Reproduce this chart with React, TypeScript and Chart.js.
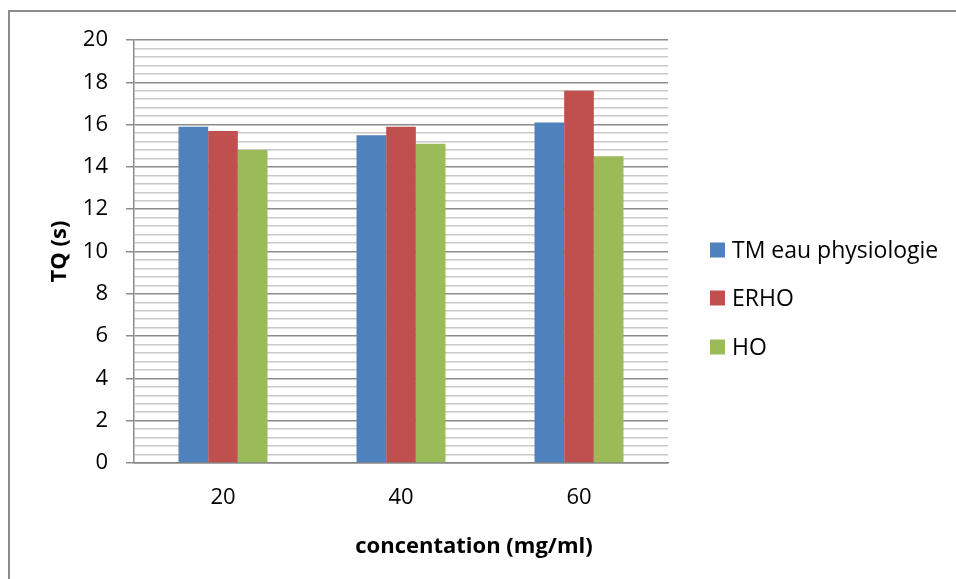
import React, { useEffect, useRef } from "react";
import { Chart, registerables } from "chart.js";

Chart.register(...registerables);

const categories = ["20", "40", "60"];
const seriesNames = ["TM eau physiologie", "ERHO", "HO"];
const tmEau = [15.9, 15.5, 16.1];
const erho = [15.7, 15.9, 17.6];
const ho = [14.8, 15.1, 14.5];
const seriesColors = ["#4F81BD", "#C0504D", "#9BBB59"];
const yTickLabels = ["0", "2", "4", "6", "8", "10", "12", "14", "16", "18", "20"];
const xTitle = "concentation (mg/ml)";
const yTitle = "TQ (s)";

const FONT = "'Open Sans', 'Liberation Sans', sans-serif";
const isMajor = (v: number) => Math.abs(v / 2 - Math.round(v / 2)) < 1e-6;

export default function App() {
  const ref = useRef<HTMLCanvasElement | null>(null);

  useEffect(() => {
    const canvas = ref.current;
    if (!canvas) return;

    const decor = {
      id: "decor",
      beforeDraw(chart: any) {
        const ctx = chart.ctx;
        ctx.save();
        ctx.fillStyle = "#ffffff";
        ctx.fillRect(0, 0, chart.width, chart.height);
        ctx.fillStyle = "#8c8c8c";
        ctx.fillRect(8, 10, 2, chart.height - 10);
        ctx.fillRect(8, 10, chart.width - 8, 2);
        ctx.restore();
      },
      afterDraw(chart: any) {
        const ctx = chart.ctx;
        const area = chart.chartArea;
        ctx.save();
        ctx.fillStyle = "#000000";
        ctx.textBaseline = "middle";
        ctx.font = `bold 22px ${FONT}`;
        ctx.textAlign = "center";
        ctx.fillText(xTitle, 474, 547);
        ctx.save();
        ctx.translate(60, (area.top + area.bottom) / 2);
        ctx.rotate(-Math.PI / 2);
        ctx.fillText(yTitle, 0, 0);
        ctx.restore();
        ctx.font = `23px ${FONT}`;
        ctx.textAlign = "left";
        const rows = [250, 298, 347];
        chart.data.datasets.forEach((ds: any, i: number) => {
          const y = rows[i];
          ctx.fillStyle = ds.backgroundColor;
          ctx.fillRect(710, y - 7.5, 15, 15);
          ctx.fillStyle = "#000000";
          ctx.fillText(ds.label, 732, y + 1);
        });
        ctx.restore();
      },
    };

    const chart = new Chart(canvas, {
      type: "bar",
      data: {
        labels: categories,
        datasets: [tmEau, erho, ho].map((d, i) => ({
          label: seriesNames[i],
          data: d,
          backgroundColor: seriesColors[i],
          borderWidth: 0,
          barPercentage: 1,
          categoryPercentage: 0.5,
        })),
      },
      options: {
        responsive: false,
        animation: false,
        devicePixelRatio: 1,
        layout: { padding: { left: 0, top: 40, right: 288, bottom: 0 } },
        plugins: {
          legend: { display: false },
          tooltip: { enabled: false },
          title: { display: false },
        },
        scales: {
          x: {
            grid: { display: false, drawTicks: false },
            border: { display: true, color: "#868686", width: 1.5 },
            ticks: {
              color: "#000000",
              font: { family: FONT, size: 22 },
              padding: 22,
              maxRotation: 0,
            },
            afterFit(scale: any) {
              scale.height = 579 - 463;
            },
          },
          y: {
            min: 0,
            max: 20,
            grid: {
              display: true,
              drawTicks: true,
              tickLength: 8,
              lineWidth: 1.5,
              color: (c: any) => (isMajor(c.tick?.value ?? 0) ? "#8c8c8c" : "#c8c8c8"),
              tickColor: (c: any) => (isMajor(c.tick?.value ?? 0) ? "#8c8c8c" : "rgba(0,0,0,0)"),
            },
            border: { display: true, color: "#8c8c8c", width: 1.5 },
            ticks: {
              stepSize: 0.4,
              autoSkip: false,
              color: "#000000",
              font: { family: FONT, size: 22 },
              padding: 18,
              callback: (v: any) => {
                const n = Number(v);
                if (!isMajor(n)) return "";
                const idx = Math.round(n / 2);
                return yTickLabels[idx] ?? "";
              },
            },
            afterFit(scale: any) {
              scale.width = 134;
            },
          },
        },
      },
      plugins: [decor],
    } as any);

    return () => chart.destroy();
  }, []);

  return (
    <div style={{ position: "fixed", left: 0, top: 0, width: 956, height: 579, background: "#fff" }}>
      <canvas ref={ref} width={956} height={579} style={{ width: 956, height: 579, display: "block" }} />
    </div>
  );
}
